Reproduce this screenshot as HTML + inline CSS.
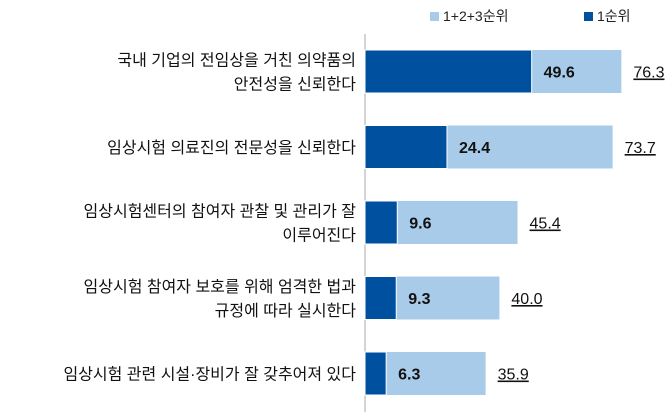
<!DOCTYPE html>
<html><head><meta charset="utf-8"><style>
body{margin:0;width:671px;height:414px;background:#fff;font-family:"Liberation Sans","Noto Sans CJK KR",sans-serif;overflow:hidden}
svg text{font-family:"Liberation Sans","Noto Sans CJK KR",sans-serif}
</style></head><body>
<svg id="chart" width="671" height="414">
<g>
<rect x="430" y="12" width="9" height="9" fill="#a9cbea"/>
<text x="443" y="21" font-size="14" fill="#222">1+2+3순위</text>
<rect x="584" y="12" width="9" height="9" fill="#0050a0"/>
<text x="597" y="21" font-size="14" fill="#222">1순위</text>
</g>
<line x1="365" y1="34" x2="365" y2="412" stroke="#aaa"/>
<g id="bars"></g>
</svg>
<script>
const categories=[["국내 기업의 전임상을 거친 의약품의","안전성을 신뢰한다"],["임상시험 의료진의 전문성을 신뢰한다"],["임상시험센터의 참여자 관찰 및 관리가 잘","이루어진다"],["임상시험 참여자 보호를 위해 엄격한 법과","규정에 따라 실시한다"],["임상시험 관련 시설·장비가 잘 갖추어져 있다"]];
const totalValues=[76.3,73.7,45.4,40.0,35.9];
const firstValues=[49.6,24.4,9.6,9.3,6.3];
const NS="http://www.w3.org/2000/svg";
const g=document.getElementById('bars');
const x0=365, k=3.36, top0=50, pitch=75.5, bh=43;
const xs=v=>x0+v*k;
function mk(t,a,txt){const e=document.createElementNS(NS,t);for(const n in a)e.setAttribute(n,a[n]);if(txt!=null)e.textContent=txt;g.appendChild(e);return e;}
categories.forEach((c,i)=>{
 const y=top0+i*pitch, cy=y+bh/2;
 const lb=mk('rect',{x:x0,y:y,width:xs(totalValues[i])-x0,height:bh,fill:'#a9cbea'});
 
 
 const db=mk('rect',{x:x0,y:y,width:xs(firstValues[i])-x0,height:bh,fill:'#0050a0',stroke:'#fff','stroke-width':1});
 
 
 const fl=mk('text',{x:xs(firstValues[i])+12,y:cy+6,'font-size':16,'font-weight':'bold',fill:'#111'},firstValues[i].toFixed(1));
 
 
 const tl=mk('text',{x:xs(totalValues[i])+12,y:cy+6,'font-size':16,fill:'#111','text-decoration':'underline'},totalValues[i].toFixed(1));
 
 
 c.forEach((line,j)=>{
  const ty=cy+6+(j-(c.length-1)/2)*24;
  const t=mk('text',{x:356,y:ty,'font-size':16,fill:'#111','text-anchor':'end'},line);
  
  
 });
});
</script>
</body></html>
